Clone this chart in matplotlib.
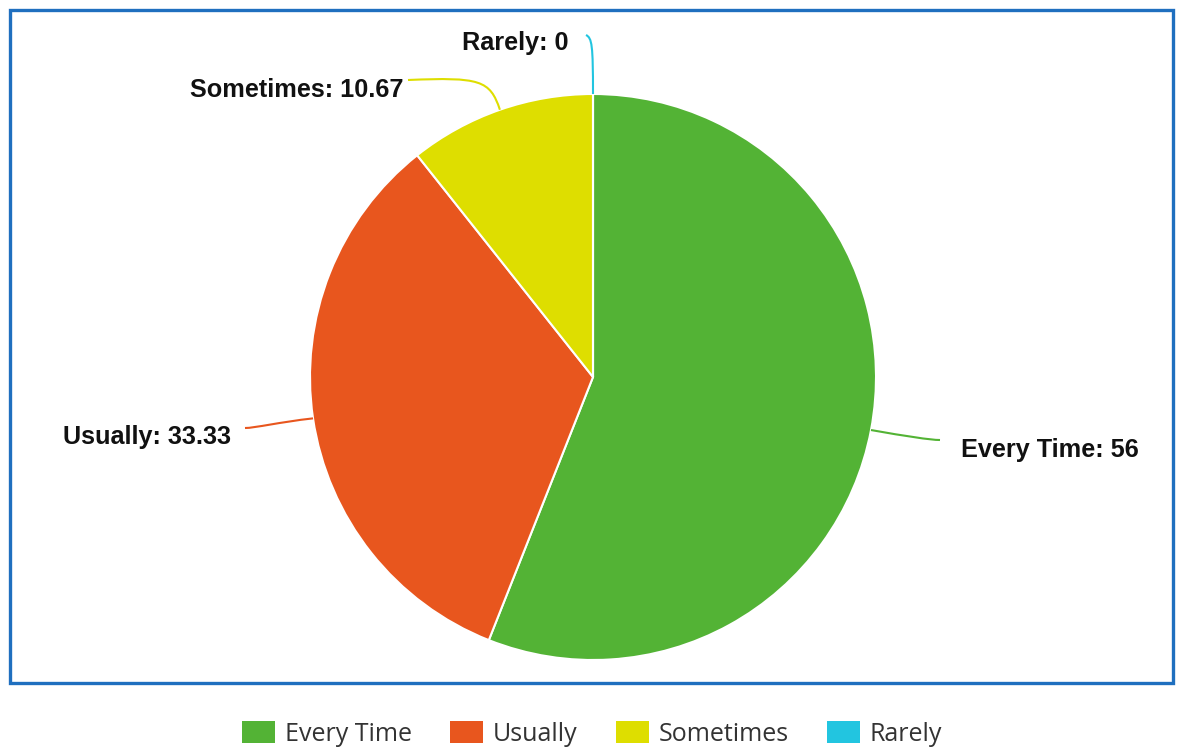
import matplotlib
matplotlib.use("Agg")
import matplotlib.pyplot as plt
import numpy as np
from matplotlib.patches import Rectangle, Patch, PathPatch
from matplotlib.path import Path

categories = ["Every Time", "Usually", "Sometimes", "Rarely"]
values = [56, 33.33, 10.67, 0]
value_labels = ["56", "33.33", "10.67", "0"]
colors = ["#53b335", "#e8561e", "#dede00", "#22c5e0"]

W, H = 1181, 749
fig = plt.figure(figsize=(W / 100, H / 100), dpi=100)
ax = fig.add_axes([0, 0, 1, 1])

cx, cy, R = 593, H - 377, 283
wedges, _ = ax.pie(values, colors=colors, startangle=90, counterclock=False,
                   center=(cx, cy), radius=R,
                   wedgeprops=dict(edgecolor="white", linewidth=1.5))
ax.set_xlim(0, W)
ax.set_ylim(0, H)
ax.set_aspect("equal")
ax.axis("off")

# label layout (pixel positions, y measured from top), text alignment and connector control
layout = {
    "Every Time": dict(text=(961, 450), ha="left", ctrl=[(905, 436), (930, 440)], end=(940, 440)),
    "Usually": dict(text=(231, 437), ha="right", ctrl=[(280, 422), (255, 428)], end=(245, 428)),
    "Sometimes": dict(text=(404, 90), ha="right", ctrl=[(490, 80), (480, 77)], end=(408, 80)),
    "Rarely": dict(text=(569, 43), ha="right", ctrl=[(593, 45), (592, 38)], end=(586, 35)),
}

for w, cat, val, col in zip(wedges, categories, value_labels, colors):
    mid = np.deg2rad((w.theta1 + w.theta2) / 2)
    ax_x = cx + R * np.cos(mid)
    ax_y = cy + R * np.sin(mid)
    L = layout[cat]
    pts = [(ax_x, ax_y)] + [(x, H - y) for x, y in L["ctrl"]] + [(L["end"][0], H - L["end"][1])]
    path = Path(pts, [Path.MOVETO, Path.CURVE4, Path.CURVE4, Path.CURVE4])
    ax.add_patch(PathPatch(path, facecolor="none", edgecolor=col, linewidth=1.5))
    ax.text(L["text"][0], H - L["text"][1], f"{cat}: {val}", ha=L["ha"], va="center",
            fontsize=18.2, fontweight="bold", family="Liberation Sans", color="#111111")

# border
border = Rectangle((9.5, H - 683), 1163, 673.5, fill=False, edgecolor="#1f6fbf",
                   linewidth=2.4, transform=ax.transData, clip_on=False)
ax.add_patch(border)

handles = [Patch(facecolor=c, edgecolor="none") for c in colors]
leg = fig.legend(handles, categories, loc="center", bbox_to_anchor=(592 / W, 15 / H),
                 ncol=4, frameon=False, prop=dict(family="Open Sans", size=18),
                 handlelength=1.32, handleheight=0.95, handletextpad=0.4,
                 columnspacing=1.52, borderaxespad=0.0, borderpad=0.0)
for t in leg.get_texts():
    t.set_color("#333333")

fig.savefig("out.png", dpi=100)
